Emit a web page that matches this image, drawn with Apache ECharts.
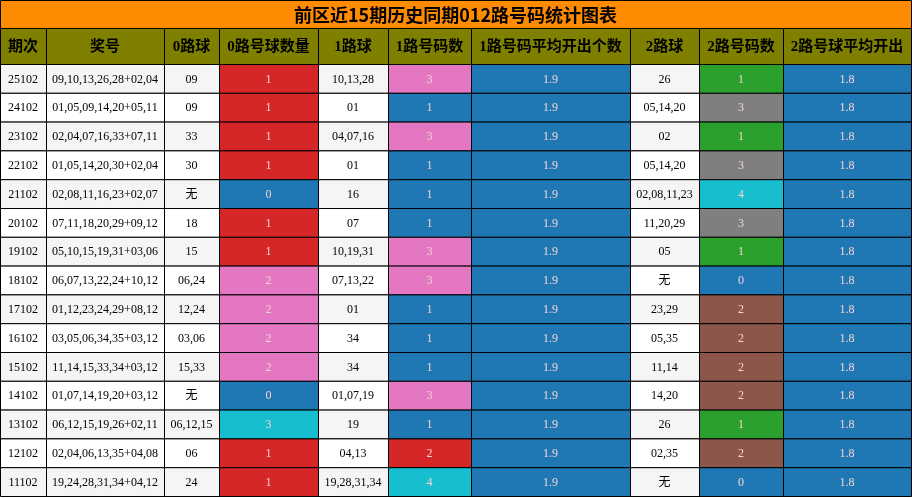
<!DOCTYPE html>
<html><head><meta charset="utf-8">
<script src="https://cdn.jsdelivr.net/npm/echarts@6/dist/echarts.min.js"></script>
<style>html,body{margin:0;padding:0;background:#fff}#c{width:912px;height:498px}</style>
</head><body><div id="c"></div>
<script>
const title = '前区近15期历史同期012路号码统计图表';
const headers = ['期次','奖号','0路球','0路号球数量','1路球','1路号码数','1路号码平均开出个数','2路球','2路号码数','2路号球平均开出'];
const periods = ['25102','24102','23102','22102','21102','20102','19102','18102','17102','16102','15102','14102','13102','12102','11102'];
const draws = ['09,10,13,26,28+02,04','01,05,09,14,20+05,11','02,04,07,16,33+07,11','01,05,14,20,30+02,04','02,08,11,16,23+02,07','07,11,18,20,29+09,12','05,10,15,19,31+03,06','06,07,13,22,24+10,12','01,12,23,24,29+08,12','03,05,06,34,35+03,12','11,14,15,33,34+03,12','01,07,14,19,20+03,12','06,12,15,19,26+02,11','02,04,06,13,35+04,08','19,24,28,31,34+04,12'];
const balls0 = ['09','09','33','30','无','18','15','06,24','12,24','03,06','15,33','无','06,12,15','06','24'];
const count0 = [1,1,1,1,0,1,1,2,2,2,2,0,3,1,1];
const balls1 = ['10,13,28','01','04,07,16','01','16','07','10,19,31','07,13,22','01','34','34','01,07,19','19','04,13','19,28,31,34'];
const count1 = [3,1,3,1,1,1,3,3,1,1,1,3,1,2,4];
const avg1 = 1.9;
const balls2 = ['26','05,14,20','02','05,14,20','02,08,11,23','11,20,29','05','无','23,29','05,35','11,14','14,20','26','02,35','无'];
const count2 = [1,3,1,3,4,3,1,0,2,2,2,2,1,2,0];
const avg2 = 1.8;

const colors0 = {0:'#1f77b4',1:'#d62728',2:'#e377c2',3:'#17becf'};
const colors1 = {1:'#1f77b4',2:'#d62728',3:'#e377c2',4:'#17becf'};
const colors2 = {0:'#1f77b4',1:'#2ca02c',2:'#8c564b',3:'#7f7f7f',4:'#17becf'};
const avgColor = '#1f77b4';

// layout
const colEdges = [0,46,164,219,318,388,471,630,699,783,911];
const titleH = 28, headH = 36, rowH = 28.8;

const cells = [];
cells.push({x0:0,x1:911,y0:0,y1:titleH,text:title,fill:'#ff8c00',font:'bold 18px "Noto Sans CJK SC", serif',color:'#000'});
headers.forEach((h,i)=>cells.push({x0:colEdges[i],x1:colEdges[i+1],y0:titleH,y1:titleH+headH,text:h,fill:'#808000',font:'bold 15px "Liberation Serif","Noto Sans CJK SC",serif',color:'#000'}));
const txtFont = '12px "Liberation Serif","Noto Sans CJK SC",serif';
periods.forEach((p,r)=>{
  const y0 = titleH+headH+r*rowH, y1 = y0+rowH;
  const bg = r%2===0 ? '#f5f5f5' : '#ffffff';
  const vals = [
    [p,bg,'#000'],[draws[r],bg,'#000'],[balls0[r],bg,'#000'],
    [String(count0[r]),colors0[count0[r]],'#f4d4d4'],
    [balls1[r],bg,'#000'],
    [String(count1[r]),colors1[count1[r]],'#f4d4d4'],
    [String(avg1),avgColor,'#f4d4d4'],
    [balls2[r],bg,'#000'],
    [String(count2[r]),colors2[count2[r]],'#f4d4d4'],
    [String(avg2),avgColor,'#f4d4d4']
  ];
  vals.forEach((v,i)=>cells.push({x0:colEdges[i],x1:colEdges[i+1],y0,y1,text:v[0],fill:v[1],font:txtFont,color:v[2]}));
});

const chart = echarts.init(document.getElementById('c'));
chart.setOption({
  animation:false,
  grid:{left:0,right:0,top:0,bottom:0},
  xAxis:{type:'value',min:0,max:912,show:false},
  yAxis:{type:'value',min:0,max:498,inverse:true,show:false},
  series:[{
    type:'custom',
    data:cells.map((c,i)=>[c.x0,c.y0,c.x1,c.y1,i]),
    renderItem:(params,api)=>{
      const c = cells[api.value(4)];
      const p0 = api.coord([c.x0,c.y0]), p1 = api.coord([c.x1,c.y1]);
      return {type:'group',children:[
        {type:'rect',shape:{x:p0[0]+0.5,y:p0[1]+0.5,width:p1[0]-p0[0],height:p1[1]-p0[1]},style:{fill:c.fill,stroke:'#000',lineWidth:1}},
        {type:'text',style:{x:(p0[0]+p1[0])/2,y:(p0[1]+p1[1])/2+1,text:c.text,font:c.font,fill:c.color,align:'center',verticalAlign:'middle'}}
      ]};
    }
  }]
});
</script></body></html>
